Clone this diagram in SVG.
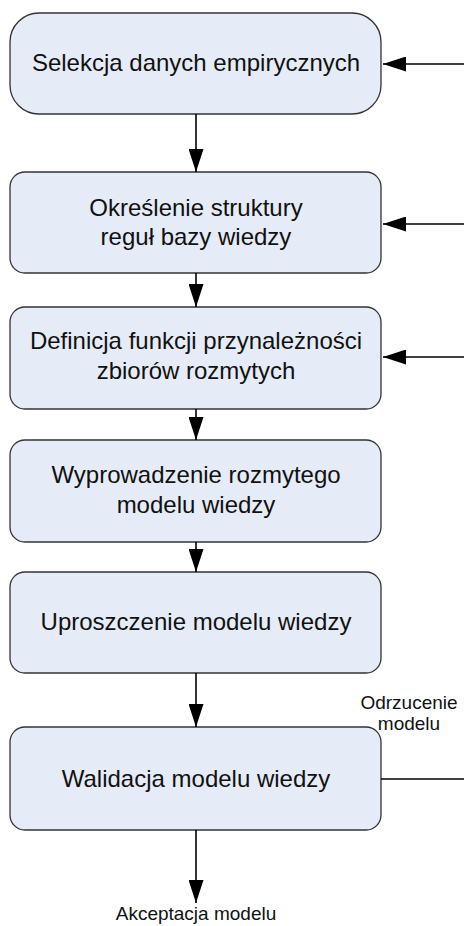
<svg xmlns="http://www.w3.org/2000/svg" width="464" height="926" viewBox="0 0 464 926">
<defs>
<marker id="a" markerWidth="23" markerHeight="15" refX="23" refY="7.5" markerUnits="userSpaceOnUse" orient="auto">
<path d="M0,0 L23,7.5 L0,15 Z" fill="#000"/>
</marker>
</defs>
<style>
.box{fill:#E6ECF7;stroke:#333;stroke-width:1.3}
.t{font-family:"Liberation Sans",Arial,sans-serif;font-size:24px;fill:#111;text-anchor:middle}
.s{font-family:"Liberation Sans",Arial,sans-serif;font-size:19px;fill:#111;text-anchor:middle}
.c{stroke:#000;stroke-width:1.6;fill:none}
</style>
<rect width="464" height="926" fill="#fff"/>
<g id="n1"><rect class="box" x="10" y="13" width="371" height="101" rx="29"/><text class="t" x="196" y="71">Selekcja danych empirycznych</text></g>
<g id="n2"><rect class="box" x="10" y="172" width="371" height="101" rx="15"/><text class="t" x="196" y="216">Określenie struktury</text><text class="t" x="196" y="245">reguł bazy wiedzy</text></g>
<g id="n3"><rect class="box" x="10" y="307" width="371" height="102" rx="15"/><text class="t" x="196" y="349">Definicja funkcji przynależności</text><text class="t" x="196" y="379">zbiorów rozmytych</text></g>
<g id="n4"><rect class="box" x="10" y="440" width="371" height="102" rx="15"/><text class="t" x="196" y="483">Wyprowadzenie rozmytego</text><text class="t" x="196" y="513">modelu wiedzy</text></g>
<g id="n5"><rect class="box" x="10" y="572" width="371" height="101" rx="15"/><text class="t" x="196" y="630">Uproszczenie modelu wiedzy</text></g>
<g id="n6"><rect class="box" x="10" y="727" width="371" height="103" rx="15"/><text class="t" x="196" y="787">Walidacja modelu wiedzy</text></g>
<g id="labels">
<text class="s" x="409" y="709">Odrzucenie</text>
<text class="s" x="409" y="730">modelu</text>
<text class="s" x="196" y="920">Akceptacja modelu</text>
</g>
<g id="connectors">
<line class="c" x1="196" y1="114" x2="196" y2="172" marker-end="url(#a)"/>
<line class="c" x1="196" y1="273" x2="196" y2="307" marker-end="url(#a)"/>
<line class="c" x1="196" y1="409" x2="196" y2="440" marker-end="url(#a)"/>
<line class="c" x1="196" y1="542" x2="196" y2="572" marker-end="url(#a)"/>
<line class="c" x1="196" y1="673" x2="196" y2="727" marker-end="url(#a)"/>
<line class="c" x1="196" y1="830" x2="196" y2="903" marker-end="url(#a)"/>
<line class="c" x1="464" y1="64" x2="383" y2="64" marker-end="url(#a)"/>
<line class="c" x1="464" y1="224" x2="383" y2="224" marker-end="url(#a)"/>
<line class="c" x1="464" y1="357" x2="383" y2="357" marker-end="url(#a)"/>
<line class="c" x1="381" y1="779" x2="464" y2="779"/>
</g>
</svg>
